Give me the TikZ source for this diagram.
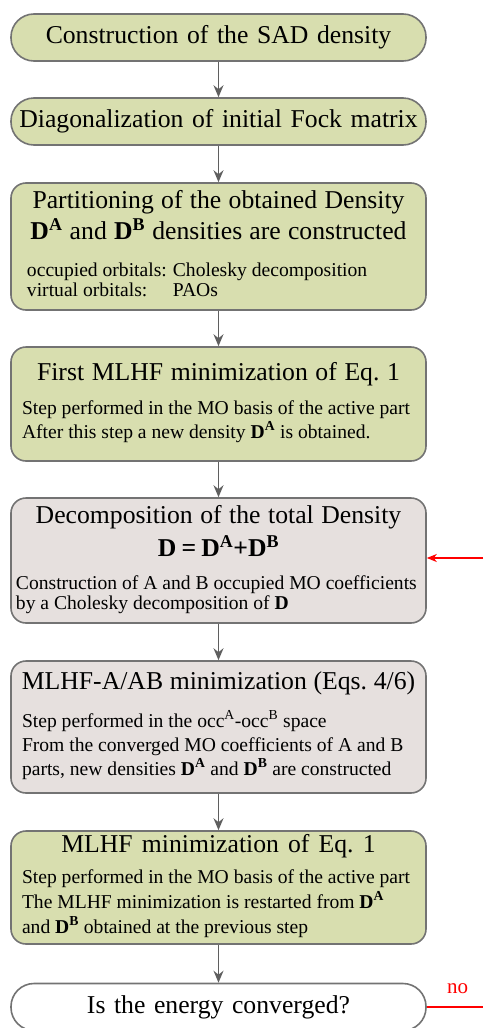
\documentclass[tikz,border=0pt]{standalone}
\usepackage{fontspec}
\setmainfont{Liberation Serif}
\usetikzlibrary{positioning,arrows.meta}

\definecolor{boxgreen}{RGB}{216,222,175}
\definecolor{boxgrey}{RGB}{230,224,222}
\definecolor{boxline}{RGB}{115,115,115}
\definecolor{flowgrey}{RGB}{95,95,95}

\newcommand{\titlefont}{\fontsize{25.7}{31}\selectfont\spaceskip=0pt\relax}
\newcommand{\bodyfont}[1]{\fontsize{19.6}{#1}\selectfont\spaceskip=0pt\relax}
\newcommand{\dens}[1]{\textbf{D\textsuperscript{#1}}}
\setlength{\parindent}{0pt}

\begin{document}
\begin{tikzpicture}[x = 1pt, y = -1pt,
  stepbox/.style = {draw = boxline, line width = 1.6pt, shape = rectangle, rounded corners = 15pt, minimum width = 415pt, text width = 401pt, inner xsep = 7pt, inner ysep = 2pt, align = center, font = \titlefont},
  capsule/.style = {stepbox, rounded corners = 23pt, minimum height = 47pt},
  flow/.style = {draw = flowgrey, line width = 1.6pt, -{Stealth[length = 12pt, width = 10pt, inset = 4pt]}},
  back/.style = {draw = red, line width = 1.4pt}]

\useasboundingbox (0,0) rectangle (483,1028);

\node[capsule, fill = boxgreen] (1) at (218.5,37.5) {Construction of the SAD density};
\node[capsule, fill = boxgreen] (2) at (218.5,121.5) {Diagonalization of initial Fock matrix};
\node[stepbox, fill = boxgreen, minimum height = 127pt] (3) at (218.5,246.5)
  {{\titlefont Partitioning of the obtained Density\\ \dens{A} and \dens{B} densities are constructed\par}
   \vspace{17pt}
   {\bodyfont{20}\raggedright\hspace*{9pt}\begin{tabular}[t]{@{}l@{\hspace{6pt}}l@{}}occupied orbitals: & Cholesky decomposition\\ virtual orbitals: & PAOs\end{tabular}\par}};
\node[stepbox, fill = boxgreen, minimum height = 114pt] (4) at (218.5,404)
  {{\titlefont First MLHF minimization of Eq.~1\par}
   \vspace{11pt}
   {\bodyfont{23}\raggedright\hspace*{4pt}\begin{tabular}[t]{@{}l@{}}Step performed in the MO basis of the active part\\ After this step a new density \dens{A} is obtained.\end{tabular}\par}};
\node[stepbox, fill = boxgrey, minimum height = 125pt] (5) at (218.5,560.5)
  {{\titlefont Decomposition of the total Density\\[2pt] \textbf{D\hspace{0.2em}=\hspace{0.2em}\dens{A}+\dens{B}}\par}
   \vspace{13pt}
   {\bodyfont{20}\raggedright\hspace*{-2pt}\begin{tabular}[t]{@{}l@{}}Construction of A and B occupied MO coefficients\\ by a Cholesky decomposition of \textbf{D}\end{tabular}\par}};
\node[stepbox, fill = boxgrey, minimum height = 132pt] (6) at (218.5,727)
  {{\titlefont MLHF-A/AB minimization (Eqs.~4/6)\par}
   \vspace{14pt}
   {\bodyfont{24}\raggedright\hspace*{4pt}\begin{tabular}[t]{@{}l@{}}Step performed in the occ\textsuperscript{A}-occ\textsuperscript{B} space\\ From the converged MO coefficients of A and B\\ parts, new densities \dens{A} and \dens{B} are constructed\end{tabular}\par}};
\node[stepbox, fill = boxgreen, minimum height = 113pt] (7) at (218.5,887.5)
  {{\titlefont MLHF minimization of Eq.~1\par}
   \vspace{6pt}
   {\bodyfont{25}\raggedright\hspace*{4pt}\begin{tabular}[t]{@{}l@{}}Step performed in the MO basis of the active part\\ The MLHF minimization is restarted from \dens{A}\\ and \dens{B} obtained at the previous step\end{tabular}\par}};
\node[capsule, fill = white] (8) at (218.5,1007) {Is the energy converged?};

\draw[flow] (1) -- (2);
\draw[flow] (2) -- (3);
\draw[flow] (3) -- (4);
\draw[flow] (4) -- (5);
\draw[flow] (5) -- (6);
\draw[flow] (6) -- (7);
\draw[flow] (7) -- (8);

% loop back from the convergence test
\coordinate (loop) at (483,558);
\coordinate (exit) at (483,1008);
\draw[back, -{Stealth[length = 10pt, width = 8pt, inset = 3pt]}] (loop) -- (loop -| 5.east);
\draw[back] (8.east) -- (8.east -| exit) node[pos = 0.55, above = 9pt, text = red, font = \fontsize{21}{24}\selectfont] (no) {no};
\end{tikzpicture}
\end{document}
